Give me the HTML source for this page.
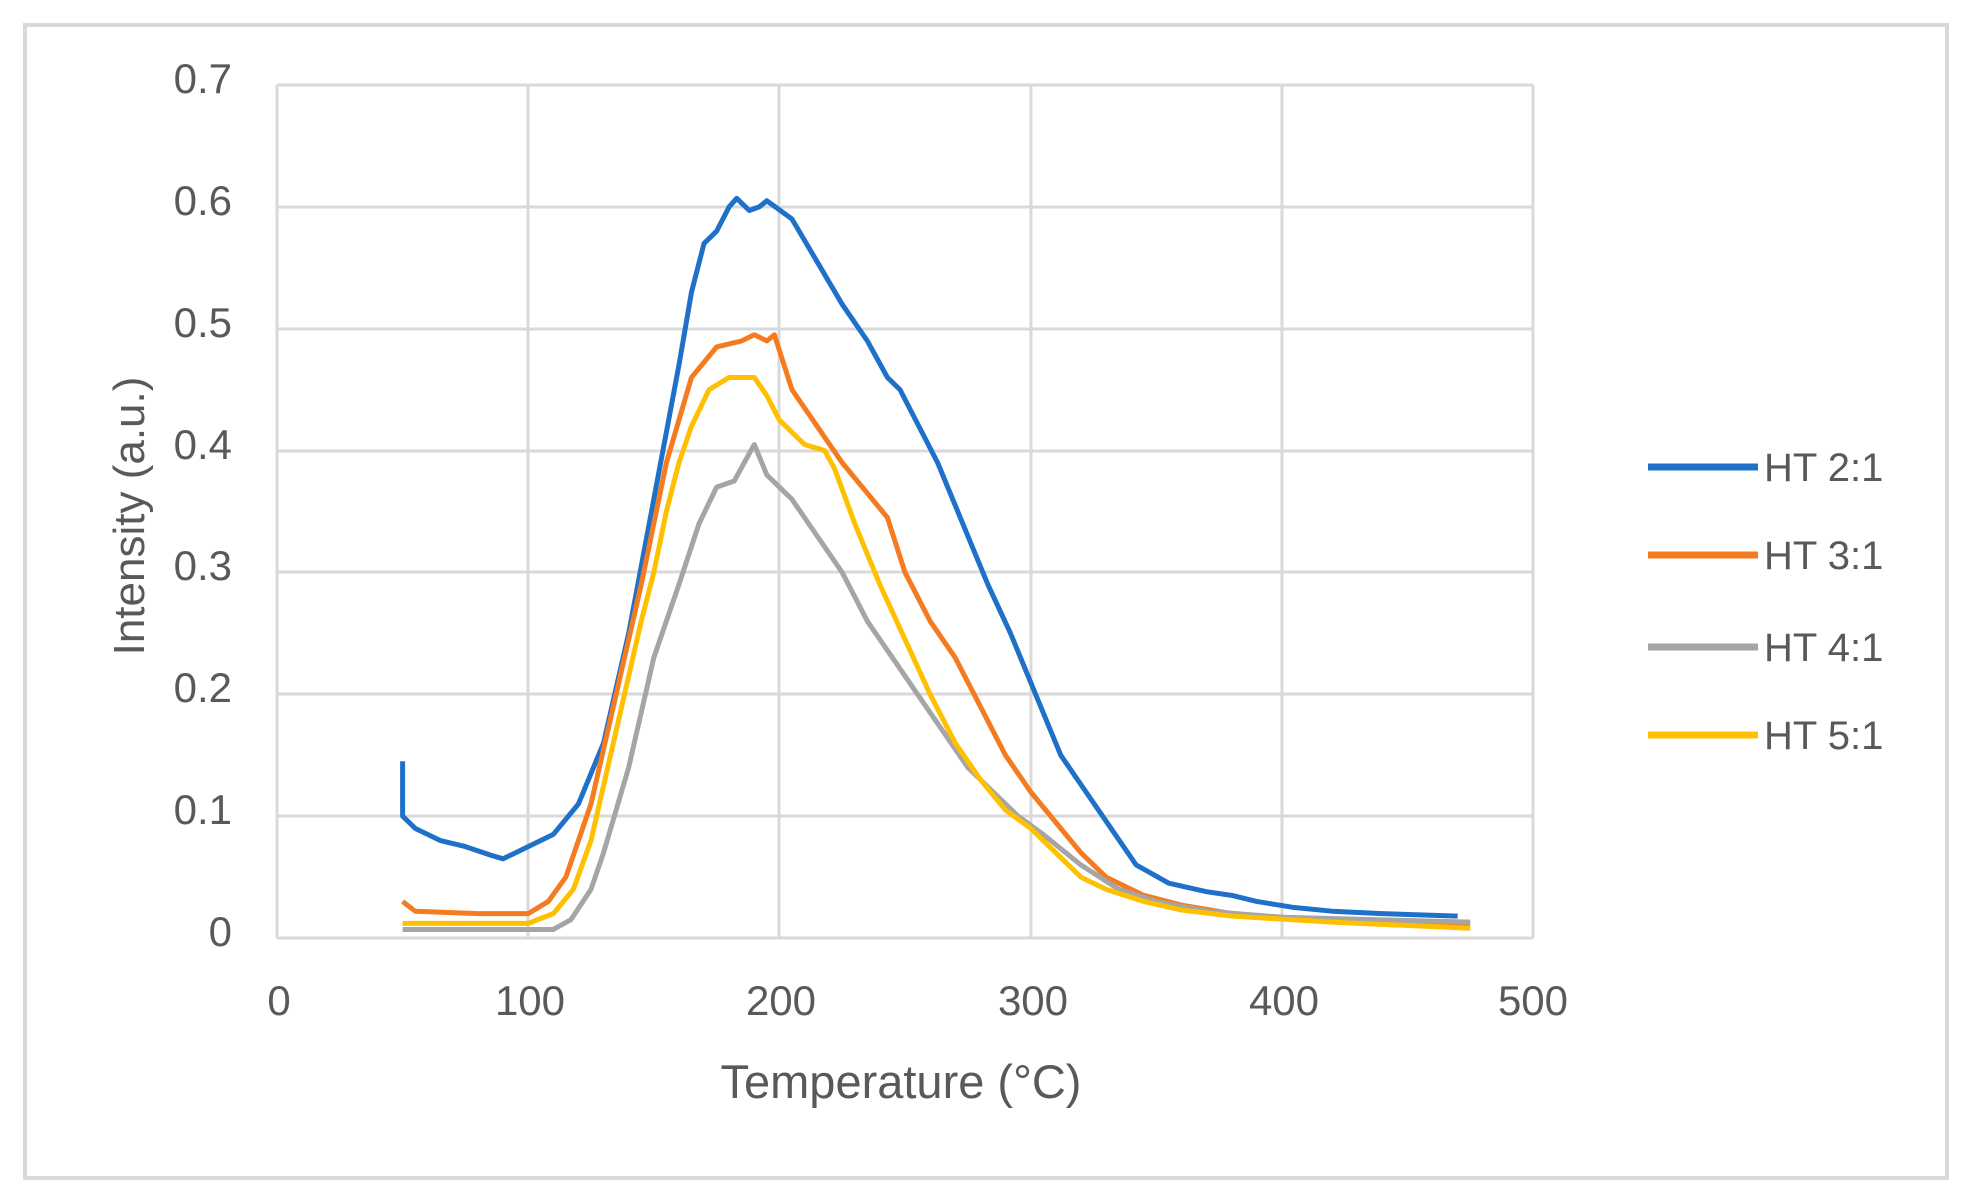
<!DOCTYPE html>
<html><head><meta charset="utf-8"><style>
html,body{margin:0;padding:0;background:#fff}
svg{display:block}
text{font-family:"Liberation Sans",sans-serif;fill:#595959}
</style></head><body>
<svg width="1972" height="1198" viewBox="0 0 1972 1198" xmlns="http://www.w3.org/2000/svg">
<rect x="25" y="25" width="1922" height="1153" fill="#fff" stroke="#d9d9d9" stroke-width="4"/>
<g stroke="#d9d9d9" stroke-width="3" fill="none">
<line x1="277" y1="85" x2="1533" y2="85"/>
<line x1="277" y1="207" x2="1533" y2="207"/>
<line x1="277" y1="329" x2="1533" y2="329"/>
<line x1="277" y1="451" x2="1533" y2="451"/>
<line x1="277" y1="572" x2="1533" y2="572"/>
<line x1="277" y1="694" x2="1533" y2="694"/>
<line x1="277" y1="816" x2="1533" y2="816"/>
<line x1="277" y1="938" x2="1533" y2="938"/>
<line x1="277" y1="85" x2="277" y2="938"/>
<line x1="528" y1="85" x2="528" y2="938"/>
<line x1="779" y1="85" x2="779" y2="938"/>
<line x1="1031" y1="85" x2="1031" y2="938"/>
<line x1="1282" y1="85" x2="1282" y2="938"/>
<line x1="1533" y1="85" x2="1533" y2="938"/>
</g>
<g font-size="42" text-anchor="end">
<text x="232" y="93">0.7</text>
<text x="232" y="215">0.6</text>
<text x="232" y="337">0.5</text>
<text x="232" y="459">0.4</text>
<text x="232" y="580">0.3</text>
<text x="232" y="702">0.2</text>
<text x="232" y="824">0.1</text>
<text x="232" y="946">0</text>
</g>
<g font-size="42" text-anchor="middle">
<text x="279" y="1015">0</text>
<text x="530" y="1015">100</text>
<text x="781" y="1015">200</text>
<text x="1033" y="1015">300</text>
<text x="1284" y="1015">400</text>
<text x="1533" y="1015">500</text>
<text x="901" y="1098" font-size="47">Temperature (°C)</text>
<text transform="translate(144,516) rotate(-90)" font-size="44">Intensity (a.u.)</text>
</g>
<g transform="translate(277,938) scale(2.512,-1218.6)" fill="none" stroke-width="5" stroke-linejoin="round">
<polyline vector-effect="non-scaling-stroke" stroke="#1f70c8" points="50,0.145 50,0.1 55,0.09 65,0.08 75,0.075 85,0.068 90,0.065 95,0.07 100,0.075 110,0.085 120,0.11 130,0.16 140,0.25 150,0.36 160,0.47 165,0.53 170,0.57 175,0.58 180,0.6 183,0.607 188,0.597 192,0.6 195,0.605 205,0.59 215,0.555 225,0.52 235,0.49 243,0.46 248,0.45 253,0.43 263,0.39 273,0.34 283,0.29 292,0.25 302,0.2 312,0.15 322,0.12 332,0.09 342,0.06 355,0.045 370,0.038 380,0.035 390,0.03 405,0.025 420,0.022 440,0.02 470,0.018"/>
<polyline vector-effect="non-scaling-stroke" stroke="#f47b20" points="50,0.03 55,0.022 80,0.02 100,0.02 108,0.03 115,0.05 125,0.11 135,0.2 145,0.29 155,0.39 165,0.46 175,0.485 185,0.49 190,0.495 195,0.49 198,0.495 205,0.45 215,0.42 225,0.39 235,0.365 243,0.345 250,0.3 260,0.26 270,0.23 280,0.19 290,0.15 300,0.12 310,0.095 320,0.07 330,0.05 345,0.035 360,0.027 380,0.02 400,0.017 440,0.013 475,0.012"/>
<polyline vector-effect="non-scaling-stroke" stroke="#a5a5a5" points="50,0.007 110,0.007 117,0.015 125,0.04 130,0.07 140,0.14 150,0.23 160,0.29 168,0.34 175,0.37 182,0.375 186,0.39 190,0.405 195,0.38 205,0.36 215,0.33 225,0.3 235,0.26 245,0.23 255,0.2 265,0.17 275,0.14 285,0.12 295,0.1 305,0.085 320,0.06 335,0.04 350,0.03 370,0.022 400,0.017 475,0.013"/>
<polyline vector-effect="non-scaling-stroke" stroke="#ffc000" points="50,0.012 100,0.012 110,0.02 118,0.04 125,0.08 135,0.17 145,0.26 150,0.3 155,0.35 160,0.39 165,0.42 172,0.45 180,0.46 190,0.46 195,0.445 200,0.425 210,0.405 218,0.4 222,0.385 230,0.34 240,0.29 250,0.245 260,0.2 270,0.16 280,0.13 290,0.105 300,0.09 310,0.07 320,0.05 330,0.04 345,0.03 360,0.023 380,0.018 420,0.013 475,0.008"/>
</g>
<g stroke-width="7">
<line x1="1648" y1="467" x2="1758" y2="467" stroke="#1f70c8"/>
<line x1="1648" y1="555" x2="1758" y2="555" stroke="#f47b20"/>
<line x1="1648" y1="647" x2="1758" y2="647" stroke="#a5a5a5"/>
<line x1="1648" y1="735" x2="1758" y2="735" stroke="#ffc000"/>
</g>
<g font-size="40">
<text x="1764" y="481">HT 2:1</text>
<text x="1764" y="569">HT 3:1</text>
<text x="1764" y="661">HT 4:1</text>
<text x="1764" y="749">HT 5:1</text>
</g>
</svg>
</body></html>
